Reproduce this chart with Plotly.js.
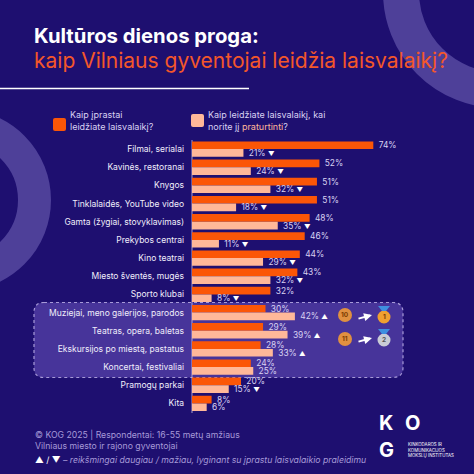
<!DOCTYPE html>
<html><head><meta charset="utf-8">
<script src="https://cdn.plot.ly/plotly-3.0.1.min.js"></script>
<style>html,body{margin:0;padding:0;background:#1e0f70}</style></head>
<body><div id="c" style="width:474px;height:474px"></div>
<script>
const categories=["Filmai, serialai","Kavinės, restoranai","Knygos","Tinklalaidės, YouTube video","Gamta (žygiai, stovyklavimas)","Prekybos centrai","Kino teatrai","Miesto šventės, mugės","Sporto klubai","Muziejai, meno galerijos, parodos","Teatras, opera, baletas","Ekskursijos po miestą, pastatus","Koncertai, festivaliai","Pramogų parkai","Kita"];
const usual=[74,52,51,51,48,46,44,43,32,30,29,28,24,20,8];
const enrich=[21,24,32,18,35,11,29,32,8,42,39,33,25,15,6];
const marks=["▼","▼","▼","▼","▼","▼","▼","▼","▼","▲","▲","▲","","▼",""];
const usualName="Kaip įprastai<br>leidžiate laisvalaikį?";
const enrichName='Kaip leidžiate laisvalaikį, kai<br>norite jį <span style="color:#ffb899">praturtinti</span>?';
const FONT="Inter, 'Noto Sans', sans-serif";
const W=474,H=474;
const px=x=>x/W, py=y=>1-y/H;
const BG="#1e0f70",ORANGE="#fb5607",PEACH="#ffb899",LAV="#d9d2f2",BAND="#47349a",RING="#4e4099";
const circle=(cx,cy,r,fill,line)=>({type:"circle",xref:"paper",yref:"paper",x0:px(cx-r),x1:px(cx+r),y0:py(cy+r),y1:py(cy-r),fillcolor:fill,line:line||{width:0},layer:"below"});
const rrect=(x0,y0,x1,y1,r)=>{const X=px,Y=py;return `M${X(x0+r)},${Y(y0)} L${X(x1-r)},${Y(y0)} Q${X(x1)},${Y(y0)} ${X(x1)},${Y(y0+r)} L${X(x1)},${Y(y1-r)} Q${X(x1)},${Y(y1)} ${X(x1-r)},${Y(y1)} L${X(x0+r)},${Y(y1)} Q${X(x0)},${Y(y1)} ${X(x0)},${Y(y1-r)} L${X(x0)},${Y(y0+r)} Q${X(x0)},${Y(y0)} ${X(x0+r)},${Y(y0)} Z`;};
const path=(d,fill,line,layer)=>({type:"path",xref:"paper",yref:"paper",path:d,fillcolor:fill,line:line||{width:0},layer:layer||"below"});
const note=(x,y,text,size,color,extra)=>Object.assign({xref:"paper",yref:"paper",x:px(x-2),y:py(y),text,showarrow:false,xanchor:"left",yanchor:"middle",align:"left",font:{family:FONT,size,color}},extra||{});
const badge=(x,y,text,color)=>({xref:"paper",yref:"paper",x:px(x),y:py(y),text:"<b>"+text+"</b>",showarrow:false,xanchor:"center",yanchor:"middle",font:{family:FONT,size:6.5,color}});
const arrow=(x0,y0,x1,y1)=>({xref:"paper",yref:"paper",axref:"paper",ayref:"paper",x:px(x1),y:py(y1),ax:px(x0),ay:py(y0),text:"",showarrow:true,arrowhead:2,arrowsize:.8,arrowwidth:2,arrowcolor:"#ffffff"});
const shapes=[
 circle(499,-8,98,"rgba(0,0,0,0)",{width:36,color:RING}),
 circle(-40,200,74.5,"rgba(0,0,0,0)",{width:33,color:RING}),
 path(`M0,${py(88.5)} L${px(249)},${py(88.5)}`,"rgba(0,0,0,0)",{width:1.5,color:"#ffffff"}),
 path(rrect(34,302.5,403,377.5,10),BAND,{width:1.2,color:"#a79ad8",dash:"dot"}),
 path(rrect(53,118,66,131,2),ORANGE),
 path(rrect(191,114,204,127,2),PEACH),
 path(`M${px(192)},${py(140)} L${px(192)},${py(413)}`,"rgba(0,0,0,0)",{width:.8,color:"#c9c2ea"}),
 circle(345,315,7,"#e09040"),circle(345,339,7,"#e09040"),
 circle(384,317,6.5,"#f0a030"),circle(384,340,6.5,"#c9ccd6"),
 path(`M${px(378)},${py(306)} L${px(390)},${py(306)} L${px(386)},${py(311)} L${px(382)},${py(311)} Z`,"#3f8fe0"),
 path(`M${px(378)},${py(329)} L${px(390)},${py(329)} L${px(386)},${py(334)} L${px(382)},${py(334)} Z`,"#3f8fe0")
];
const annotations=[
 note(34,36,"<b>Kultūros dienos proga:</b>",20.3,"#ffffff"),
 note(34,61,"kaip Vilniaus gyventojai leidžia laisvalaikį?",21,"#f4572a"),
 note(70,120,usualName,9,LAV),
 note(208,120,enrichName,9,LAV),
 note(35,440,"© KOG 2025 | Respondentai: 16-55 metų amžiaus<br>Vilniaus miesto ir rajono gyventojai",8.7,"#a79ad8"),
 note(35,460,'<span style="color:#fff">▲ / ▼</span> <i>– reikšmingai daugiau / mažiau, lyginant su įprastu laisvalaikio praleidimu</i>',8.7,"#a79ad8"),
 note(379,423,"<b>K</b>",20,"#ffffff"),note(405,423,"<b>O</b>",20,"#ffffff"),note(379,450,"<b>G</b>",20,"#ffffff"),
 note(408,450,"KINKODAROS IR<br>KOMUNIKACIJOS<br>MOKSLŲ INSTITUTAS",4.4,"#ffffff"),
 badge(345,315,"10","#7a3b00"),badge(345,339,"11","#7a3b00"),
 badge(384,317,"1","#7a3b00"),badge(384,340,"2","#555555"),
 arrow(357,319,372,315),arrow(357,342,372,338)
];
const TRI='<span style="color:#fff;font-size:6.5px">';
const data=[
 {type:"bar",orientation:"h",name:"Kaip įprastai leidžiate laisvalaikį?",y:categories,x:usual,marker:{color:ORANGE},text:usual.map(v=>"\u00a0"+v+"%"),textposition:"outside",constraintext:"none",cliponaxis:false,textfont:{family:FONT,size:8.4,color:LAV},hoverinfo:"x+y"},
 {type:"bar",orientation:"h",name:"Kaip leidžiate laisvalaikį, kai norite jį praturtinti?",y:categories,x:enrich,marker:{color:PEACH},text:enrich.map((v,i)=>"\u00a0"+v+"%"+(marks[i]?' '+TRI+marks[i]+'</span>':"")),textposition:"outside",constraintext:"none",cliponaxis:false,textfont:{family:FONT,size:8.4,color:LAV},hoverinfo:"x+y"}
];
const layout={width:W,height:H,margin:{l:0,r:0,t:0,b:0,pad:0},paper_bgcolor:BG,plot_bgcolor:"rgba(0,0,0,0)",showlegend:false,barmode:"group",bargap:.16,bargroupgap:0,
 xaxis:{domain:[px(192),1],range:[0,115.1],showgrid:false,zeroline:false,showticklabels:false,ticks:"",fixedrange:true},
 yaxis:{domain:[py(412.5),py(140)],type:"category",autorange:"reversed",showgrid:false,zeroline:false,showline:false,ticks:"",ticklen:0,tickfont:{family:FONT,size:8.5,color:"#f1eefb"},ticklabelstandoff:7,automargin:false,fixedrange:true},
 shapes,annotations};
Plotly.newPlot("c",data,layout,{displayModeBar:false,staticPlot:true});
</script></body></html>
